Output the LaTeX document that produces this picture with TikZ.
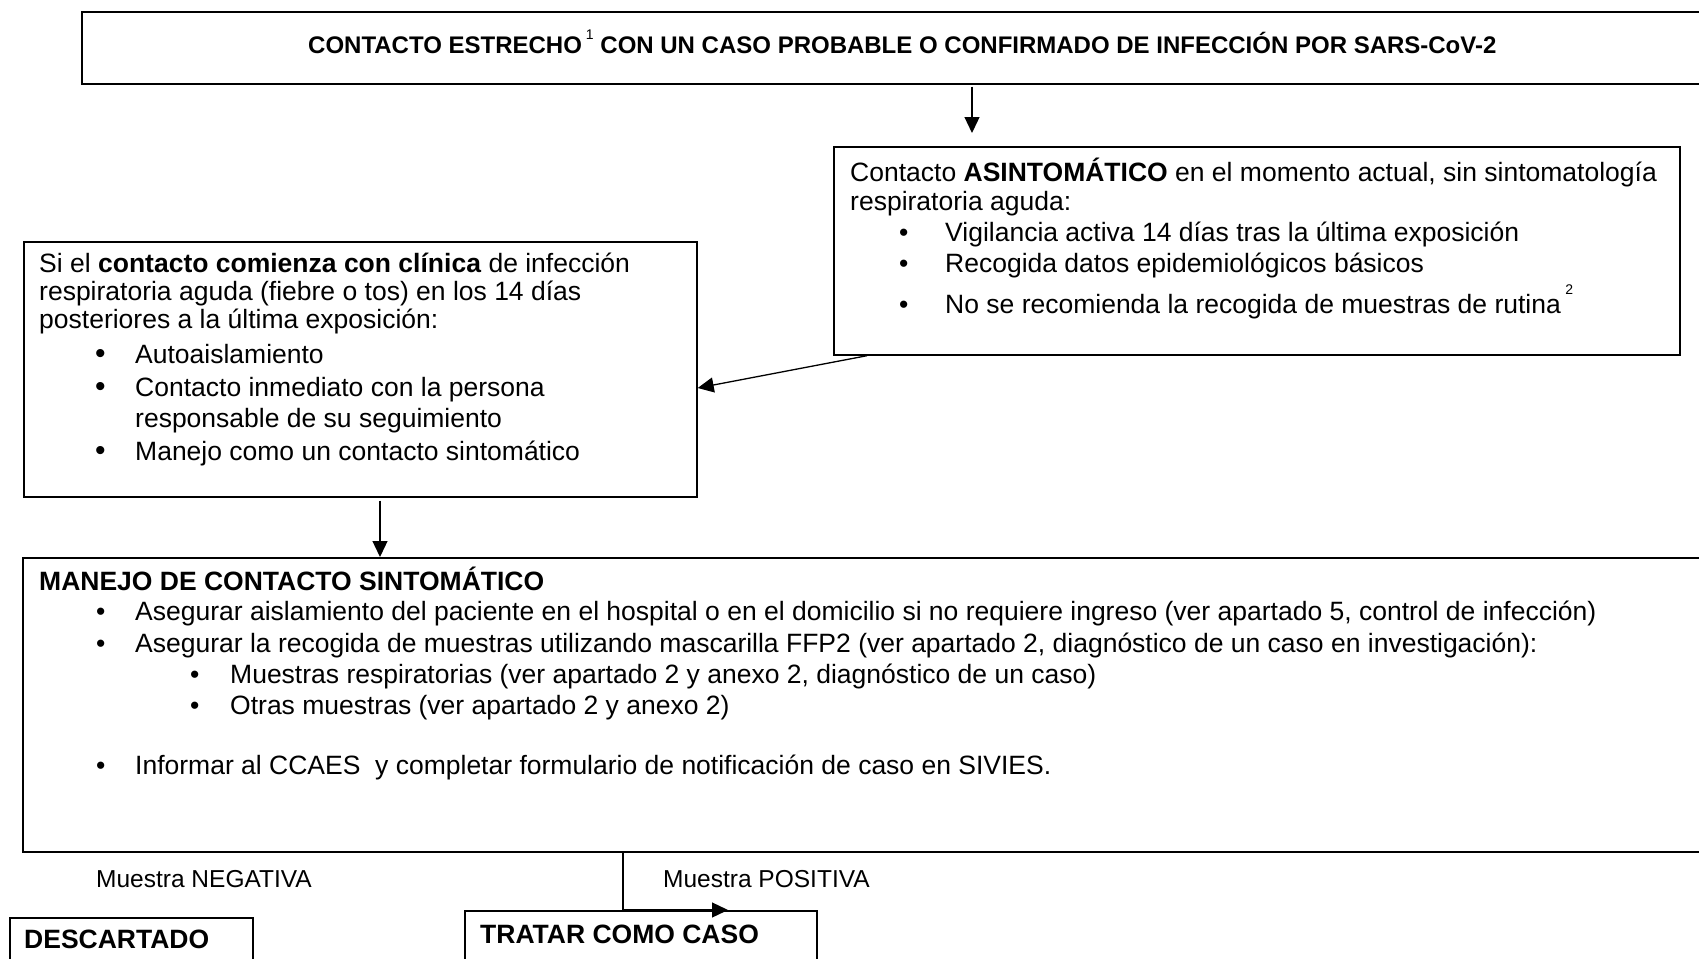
\documentclass[tikz,border=0pt]{standalone}
\usepackage{fontspec}
\setmainfont{Liberation Sans}
\usetikzlibrary{arrows.meta,calc}
\begin{document}
\begin{tikzpicture}[x=1pt,y=-1pt,
  box/.style={draw=black, line width=1.7pt, rectangle, inner sep=0pt, anchor=north west},
  txt/.style={anchor=base west, inner sep=0pt, font=\fontsize{26.5}{30}\selectfont},
  bul/.style={anchor=base west, inner sep=0pt, font=\fontsize{26.5}{30}\selectfont},
  ttl/.style={anchor=base west, inner sep=0pt, font=\fontsize{24}{26}\selectfont\bfseries},
  lbl/.style={anchor=base west, inner sep=0pt, font=\fontsize{24.5}{28}\selectfont},
  arr/.style={line width=1.3pt, -{Triangle[length=16pt,width=15pt]}},
]
\path[use as bounding box] (0,0) rectangle (1699,958);
\clip (0,0) rectangle (1699,958);

% boxes
\node[box, minimum width=1640pt, minimum height=72pt] (top) at (81,11) {};
\node[box, minimum width=846pt, minimum height=208pt] (asint) at (833,146) {};
\node[box, minimum width=673pt, minimum height=255pt] (sint) at (23,241) {};
\node[box, minimum width=1700pt, minimum height=294pt] (manejo) at (22,557) {};
\node[box, minimum width=243pt, minimum height=80pt] (desc) at (9,917) {};
\node[box, minimum width=352pt, minimum height=80pt] (tratar) at (464,910) {};

% title
\node[ttl] (t0) at (308,54) {CONTACTO ESTRECHO\,\raisebox{14pt}{\fontsize{14}{14}\selectfont\mdseries 1} CON UN CASO PROBABLE O CONFIRMADO DE INFECCIÓN POR SARS-CoV-2};

% asintomatico box
\node[txt] (a1) at (850,181) {Contacto \textbf{ASINTOMÁTICO} en el momento actual, sin sintomatología};
\node[txt] (a2) at (850,210) {respiratoria aguda:};
\node[bul] (ab1) at (899,241) {\textbullet};
\node[txt] (a3) at (945,241) {Vigilancia activa 14 días tras la última exposición};
\node[bul] (ab2) at (899,272) {\textbullet};
\node[txt] (a4) at (945,272) {Recogida datos epidemiológicos básicos};
\node[bul] (ab3) at (899,313) {\textbullet};
\node[txt] (a5) at (945,313) {No se recomienda la recogida de muestras de rutina\,\raisebox{19pt}{\fontsize{14}{14}\selectfont 2}};

% sintomatico box
\node[txt] (s1) at (39,272) {Si el \textbf{contacto comienza con clínica} de infección};
\node[txt] (s2) at (39,300) {respiratoria aguda (fiebre o tos) en los 14 días};
\node[txt] (s3) at (39,328) {posteriores a la última exposición:};
\node[bul] (sb1) at (95,363) {\fontsize{30}{30}\selectfont\textbullet};
\node[txt] (s4) at (135,363) {Autoaislamiento};
\node[bul] (sb2) at (95,396) {\fontsize{30}{30}\selectfont\textbullet};
\node[txt] (s5) at (135,396) {Contacto inmediato con la persona};
\node[txt] (s6) at (135,427) {responsable de su seguimiento};
\node[bul] (sb3) at (95,460) {\fontsize{30}{30}\selectfont\textbullet};
\node[txt] (s7) at (135,460) {Manejo como un contacto sintomático};

% manejo box
\node[txt] (m0) at (39,590) {\textbf{MANEJO DE CONTACTO SINTOMÁTICO}};
\node[bul] (mb1) at (96,620) {\textbullet};
\node[txt] (m1) at (135,620) {Asegurar aislamiento del paciente en el hospital o en el domicilio si no requiere ingreso (ver apartado 5, control de infección)};
\node[bul] (mb2) at (96,652) {\textbullet};
\node[txt] (m2) at (135,652) {Asegurar la recogida de muestras utilizando mascarilla FFP2 (ver apartado 2, diagnóstico de un caso en investigación):};
\node[bul] (mb3) at (190,683) {\textbullet};
\node[txt] (m3) at (230,683) {Muestras respiratorias (ver apartado 2 y anexo 2, diagnóstico de un caso)};
\node[bul] (mb4) at (190,714) {\textbullet};
\node[txt] (m4) at (230,714) {Otras muestras (ver apartado 2 y anexo 2)};
\node[bul] (mb5) at (96,774) {\textbullet};
\node[txt] (m5) at (135,774) {Informar al CCAES\ \ y completar formulario de notificación de caso en SIVIES.};

% bottom labels
\node[lbl] (neg) at (96,887) {Muestra NEGATIVA};
\node[lbl] (pos) at (663,887) {Muestra POSITIVA};
\node[txt] (d0) at (24,948) {\textbf{DESCARTADO}};
\node[txt] (r0) at (480,943) {\textbf{TRATAR COMO CASO}};

% connectors
\coordinate (x1) at (972,0);
\coordinate (x2) at (867,0);
\coordinate (y2) at (0,388);
\coordinate (x3) at (380,0);
\coordinate (x4) at (623,0);
\coordinate (x5) at (728,0);
\draw[arr, shorten <=2pt, shorten >=13pt] (top.south -| x1) -- (asint.north -| x1);
\draw[arr] (asint.south -| x2) -- (sint.east |- y2);
\draw[arr, shorten <=3pt] (sint.south -| x3) -- (manejo.north -| x3);
\draw[arr] (manejo.south -| x4) -- (tratar.north -| x4) -- (tratar.north -| x5);
\end{tikzpicture}
\end{document}
